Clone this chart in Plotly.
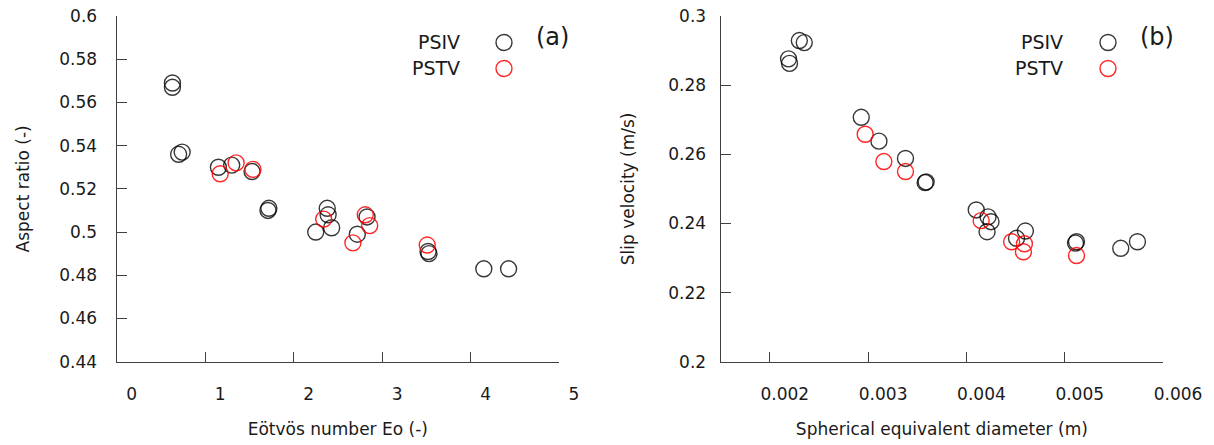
import plotly.graph_objects as go

# ---------------- data ----------------
# Panel (a): aspect ratio vs Eötvös number
a_psiv_eo = [0.63, 0.63, 0.70, 0.74, 1.15, 1.30, 1.53, 1.71, 1.72, 2.25, 2.38, 2.39, 2.43, 2.72, 2.83, 3.52, 3.53, 4.15, 4.43]
a_psiv_ar = [0.569, 0.567, 0.536, 0.537, 0.530, 0.531, 0.528, 0.510, 0.511, 0.500, 0.511, 0.508, 0.502, 0.499, 0.507, 0.491, 0.490, 0.483, 0.483]
a_pstv_eo = [1.17, 1.35, 1.54, 2.34, 2.67, 2.81, 2.86, 3.51]
a_pstv_ar = [0.527, 0.532, 0.529, 0.506, 0.495, 0.508, 0.503, 0.494]

# Panel (b): slip velocity vs spherical equivalent diameter
b_psiv_d = [0.00219, 0.00220, 0.00230, 0.00235, 0.00293, 0.00311, 0.00338, 0.00358, 0.00359, 0.00410, 0.00422, 0.00425, 0.00421, 0.00451, 0.00460, 0.00511, 0.00512, 0.00557, 0.00574]
b_psiv_v = [0.2876, 0.2863, 0.2929, 0.2923, 0.2707, 0.2638, 0.2588, 0.2518, 0.2520, 0.2439, 0.2419, 0.2405, 0.2376, 0.2357, 0.2378, 0.2343, 0.2347, 0.2328, 0.2347]
b_pstv_d = [0.00297, 0.00316, 0.00338, 0.00415, 0.00446, 0.00459, 0.00458, 0.00512]
b_pstv_v = [0.2658, 0.2579, 0.2550, 0.2408, 0.2347, 0.2341, 0.2318, 0.2307]

# tick labels
a_xticks = [0, 1, 2, 3, 4, 5]
a_xtext = ["0", "1", "2", "3", "4", "5"]
a_yticks = [0.44, 0.46, 0.48, 0.50, 0.52, 0.54, 0.56, 0.58, 0.60]
a_ytext = ["0.44", "0.46", "0.48", "0.5", "0.52", "0.54", "0.56", "0.58", "0.6"]
b_xticks = [0.002, 0.003, 0.004, 0.005, 0.006]
b_xtext = ["0.002", "0.003", "0.004", "0.005", "0.006"]
b_yticks = [0.20, 0.22, 0.24, 0.26, 0.28, 0.30]
b_ytext = ["0.2", "0.22", "0.24", "0.26", "0.28", "0.3"]

series_names = ["PSIV", "PSTV"]
panel_labels = ["(a)", "(b)"]

# ---------------- style ----------------
W, H = 1214, 445
FONT = "DejaVu Sans"
TXT = "#1a1a1a"
AX = "#404040"
BLACK = "rgba(0,0,0,0.78)"
RED = "rgba(255,0,0,0.85)"
MSIZE = 16
MLW = 1.4


def px_x(p):
    return p / W


def px_y(p):
    return 1 - p / H


fig = go.Figure()

def add(x, y, color, name, xa, ya, leg, grp):
    fig.add_trace(go.Scatter(
        x=x, y=y, mode="markers", name=name, showlegend=True,
        legend=leg, legendgroup=grp,
        xaxis=xa, yaxis=ya,
        marker=dict(symbol="circle-open", size=MSIZE, color=color,
                    line=dict(width=MLW, color=color)),
    ))

add(a_psiv_eo, a_psiv_ar, BLACK, series_names[0], "x", "y", "legend", "a1")
add(a_pstv_eo, a_pstv_ar, RED, series_names[1], "x", "y", "legend", "a2")
add(b_psiv_d, b_psiv_v, BLACK, series_names[0], "x2", "y2", "legend2", "b1")
add(b_pstv_d, b_pstv_v, RED, series_names[1], "x2", "y2", "legend2", "b2")

ydom = [px_y(361.7), px_y(16)]

base = dict(showline=True, linecolor=AX, linewidth=1.3, ticks="inside",
            ticklen=10, tickwidth=1.3, tickcolor=AX, showgrid=False,
            zeroline=False, mirror=False, automargin=False,
            tickfont=dict(family=FONT, size=17, color=TXT))
tfont = dict(family=FONT, size=17, color=TXT)

# legend keeps only the symbols; the series names are written to their left
legend_base = dict(bgcolor="rgba(0,0,0,0)", borderwidth=0, itemsizing="trace",
                   tracegroupgap=7, orientation="v",
                   font=dict(family=FONT, size=1, color="rgba(0,0,0,0)"),
                   xanchor="left", yanchor="top", xref="paper", yref="paper")

fig.update_layout(
    width=W, height=H,
    margin=dict(l=0, r=0, t=0, b=0),
    paper_bgcolor="white", plot_bgcolor="white",
    showlegend=True,
    legend=dict(legend_base, x=px_x(504 - 20), y=px_y(28)),
    legend2=dict(legend_base, x=px_x(1108 - 20), y=px_y(28)),
    xaxis=dict(base, domain=[px_x(116.7), px_x(559)], range=[0, 5],
               tickvals=a_xticks, ticktext=a_xtext, anchor="y",
               ticklabelshift=15, ticklabelstandoff=17,
               title=dict(text="Eötvös number Eo (-)", standoff=19, font=tfont)),
    yaxis=dict(base, domain=ydom, range=[0.44, 0.60],
               tickvals=a_yticks, ticktext=a_ytext, anchor="x",
               ticklabelstandoff=15,
               title=dict(text="Aspect ratio (-)", standoff=25, font=tfont)),
    xaxis2=dict(base, domain=[px_x(720.7), px_x(1163)], range=[0.0015, 0.006],
                tickvals=b_xticks, ticktext=b_xtext, anchor="y2",
                ticklabelshift=15, ticklabelstandoff=17,
                title=dict(text="Spherical equivalent diameter (m)", standoff=19, font=tfont)),
    yaxis2=dict(base, domain=ydom, range=[0.20, 0.30],
                tickvals=b_yticks, ticktext=b_ytext, anchor="x2",
                ticklabelstandoff=10,
                title=dict(text="Slip velocity (m/s)", standoff=29, font=tfont)),
)

# legend text (left of the symbols) and panel labels
legend_cfg = [(462, 552.5), (1065, 1156.5)]
row_y = [42, 68]
for (tx, lx), plab in zip(legend_cfg, panel_labels):
    for name, yy in zip(series_names, row_y):
        fig.add_annotation(x=px_x(tx), y=px_y(yy), xref="paper", yref="paper",
                           text=name, showarrow=False, xanchor="right", yanchor="middle",
                           font=dict(family=FONT, size=19, color=TXT))
    fig.add_annotation(x=px_x(lx), y=px_y(37), xref="paper", yref="paper",
                       text=plab, showarrow=False, xanchor="center", yanchor="middle",
                       font=dict(family=FONT, size=24, color=TXT))

fig.write_html("out.html", config={"displayModeBar": False},
               post_script="document.body.style.margin='0';")
